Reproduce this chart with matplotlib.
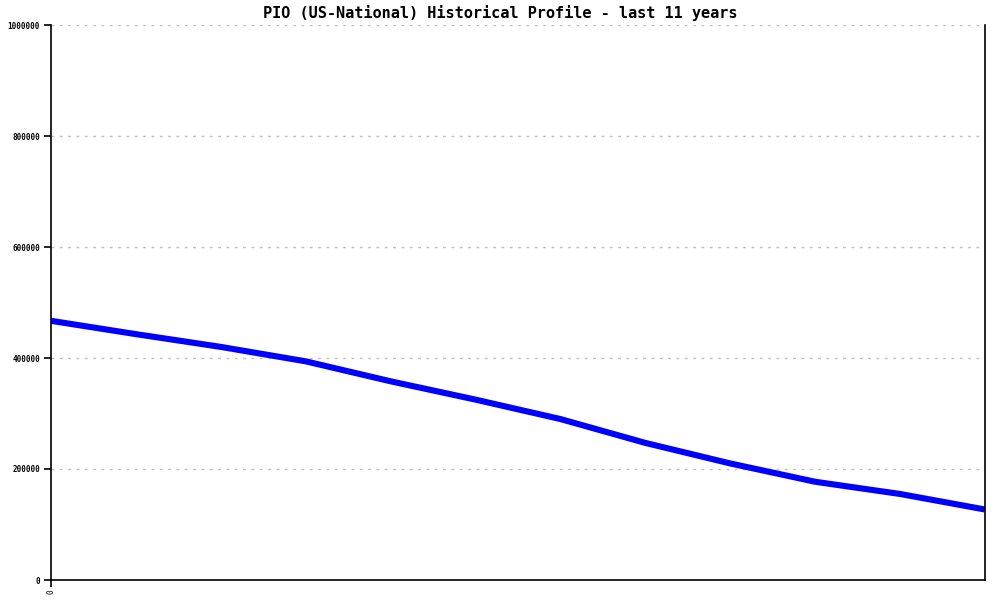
import matplotlib
matplotlib.use('Agg')
import matplotlib.pyplot as plt

# 数据
points = list(range(12))
values = [467000, 443000, 420000, 394000, 358000, 325000,
          290000, 247000, 210000, 177000, 155000, 127000]
yticks = [0, 200000, 400000, 600000, 800000, 1000000]
title = 'PIO (US-National) Historical Profile - last 11 years'

fig = plt.figure(figsize=(10, 6), dpi=100)
ax = fig.add_axes([0.051, 20 / 600, 0.934, 555 / 600])

ax.plot(points, values, color='#0000ff', linewidth=4.4, solid_capstyle='butt')

ax.set_xlim(0, 11)
ax.set_ylim(0, 1000000)
ax.set_yticks(yticks)
ax.set_yticklabels([str(v) for v in yticks], fontsize=5.5,
                   family='DejaVu Sans Mono', fontweight='bold')
ax.set_xticks([0])
ax.set_xticklabels(['0'], rotation=90, fontsize=5.5, family='DejaVu Sans Mono')

ax.grid(axis='y', color='#c0c0c0', linestyle=(0, (2, 4)), linewidth=1)
ax.set_axisbelow(True)
ax.spines['top'].set_visible(False)
for s in ['left', 'right', 'bottom']:
    ax.spines[s].set_linewidth(1.2)
    ax.spines[s].set_color('black')
ax.tick_params(axis='y', length=5, width=1.2, pad=3)
ax.tick_params(axis='x', length=5, width=1.2, pad=2)

fig.text(0.5, 1 - 13 / 600, title, ha='center', va='center',
         fontsize=11, family='DejaVu Sans Mono', fontweight='bold')

fig.savefig('out.png', dpi=100)
